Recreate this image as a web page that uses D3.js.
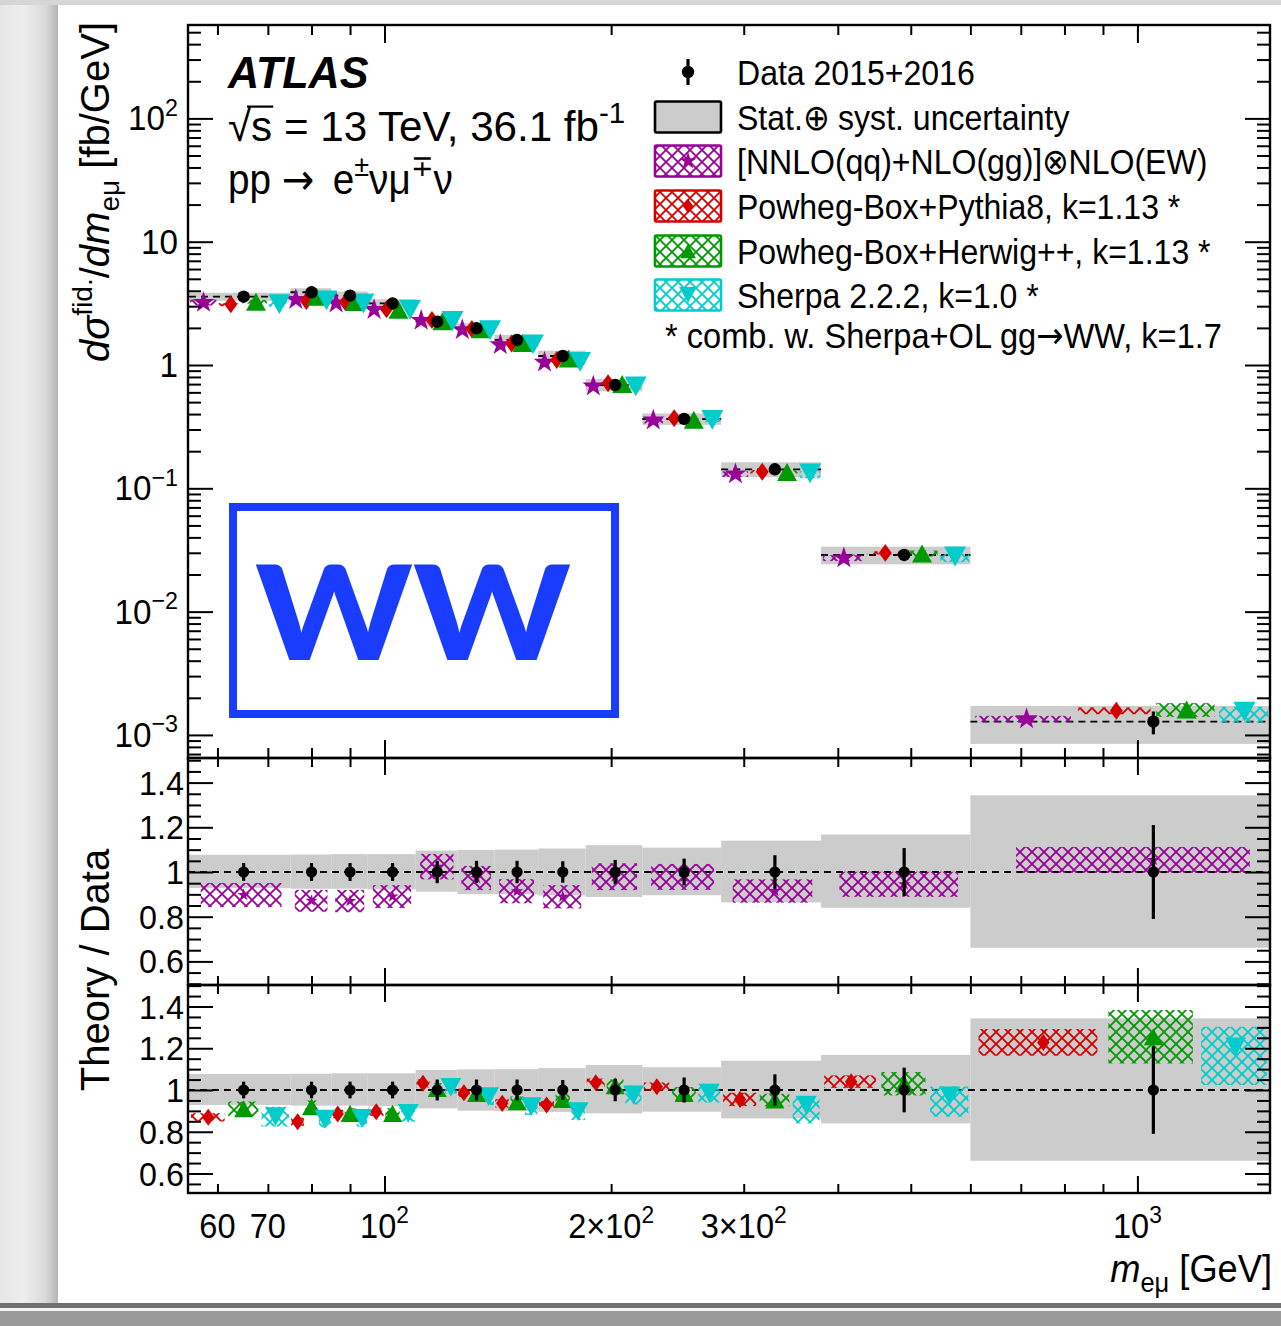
<!DOCTYPE html>
<html><head><meta charset="utf-8">
<script src="https://cdn.jsdelivr.net/npm/d3@7"></script>
<style>
html,body{margin:0;padding:0;background:#fff;}
svg{display:block;}
text{font-family:"Liberation Sans",Arial,Helvetica,sans-serif;}
</style></head><body><div id="chart"></div>
<script>
// m_emu bin edges [GeV]
const binEdges = [55,75,85,95,110,125,140,160,185,220,280,380,600,1500];
// measured fiducial cross section dsigma/dm [fb/GeV]
const dataXsec = [3.58,3.89,3.65,3.16,2.245,1.985,1.596,1.183,0.688,0.365,0.1426,0.0288,0.00128];
// relative statistical error (error bars)
const dataStat = [0.04,0.04,0.04,0.04,0.05,0.05,0.05,0.048,0.054,0.06,0.075,0.107,0.21];
// relative total uncertainty (grey band), up / down
const dataTotUp = [0.077,0.078,0.08,0.08,0.096,0.099,0.1,0.105,0.12,0.109,0.14,0.168,0.343];
const dataTotDn = [0.072,0.075,0.075,0.078,0.088,0.099,0.1,0.105,0.112,0.104,0.136,0.16,0.339];

// theory / data ratios and relative band half-widths
const nnloRatio = [0.897,0.871,0.870,0.89,1.024,0.973,0.914,0.889,0.979,0.978,0.915,0.945,1.054];
const nnloErr   = [0.054,0.049,0.05,0.051,0.057,0.054,0.054,0.052,0.06,0.058,0.052,0.056,0.058];
const pythiaRatio = [0.869,0.848,0.885,0.896,1.032,0.987,0.936,0.928,1.035,1.016,0.955,1.04,1.228];
const pythiaErr   = [0.02,0.02,0.02,0.02,0.02,0.02,0.02,0.02,0.02,0.02,0.032,0.03,0.064];
const herwigRatio = [0.91,0.92,0.888,0.888,1.008,0.984,0.944,0.955,1.02,0.984,0.952,1.03,1.255];
const herwigErr   = [0.035,0.03,0.025,0.025,0.025,0.025,0.025,0.025,0.03,0.03,0.03,0.056,0.128];
const sherpaRatio = [0.872,0.86,0.864,0.888,1.013,0.968,0.92,0.896,0.976,0.985,0.928,0.972,1.207];
const sherpaErrUp = [0.048,0.04,0.04,0.04,0.03,0.04,0.04,0.04,0.045,0.045,0.04,0.045,0.096];
const sherpaErrDn = [0.047,0.04,0.04,0.04,0.03,0.04,0.04,0.04,0.045,0.045,0.088,0.1,0.183];

// axis ticks
const xMajorTicks = [100,1000];
const xMinorTicks = [60,70,80,90,200,300,400,500,600,700,800,900];
const xTickValues = [60,70,100,200,300,1000];
const xTickBase = ["60","70","10","2\u00d710","3\u00d710","10"];
const xTickExp  = ["","","2","2","2","3"];
const yMainTickValues = [1e-3,1e-2,1e-1,1,10,100];
const yMainTickBase = ["10","10","10","1","10","10"];
const yMainTickExp  = ["\u22123","\u22122","\u22121","","","2"];
const yRatioTickValues = [0.6,0.8,1.0,1.2,1.4];
const yRatioTickLabels = ["0.6","0.8","1","1.2","1.4"];

// legend entries
const legendLabels = ["Data 2015+2016","Stat.\u2295 syst. uncertainty","[NNLO(qq)+NLO(gg)]\u2297NLO(EW)",
  "Powheg-Box+Pythia8, k=1.13 *","Powheg-Box+Herwig++, k=1.13 *","Sherpa 2.2.2, k=1.0 *"];

// ---------------------------------------------------------------
const W = 1281, H = 1326;
const L = 188, R = 1270;
const P = {main:[25,758], r1:[758,985], r2:[985,1193]};
const GREY = "#cccccc";
const COL = {nnlo:"#990099", py:"#d40000", hw:"#009900", sh:"#00cccc"};
const ARROW_FONT = "'DejaVu Sans', sans-serif";

const svg = d3.select("#chart").append("svg").attr("width",W).attr("height",H);
const defs = svg.append("defs");

// page backdrop
const lg = defs.append("linearGradient").attr("id","lshadow").attr("x1","0").attr("x2","1");
lg.append("stop").attr("offset","0").attr("stop-color","#e6e6e6");
lg.append("stop").attr("offset","0.4").attr("stop-color","#eeeeee");
lg.append("stop").attr("offset","0.8").attr("stop-color","#d8d8d8");
lg.append("stop").attr("offset","1").attr("stop-color","#b4b4b4");
svg.append("rect").attr("x",0).attr("y",0).attr("width",W).attr("height",H).attr("fill","#fff");
svg.append("rect").attr("x",0).attr("y",0).attr("width",58).attr("height",H).attr("fill","url(#lshadow)");
svg.append("rect").attr("x",0).attr("y",0).attr("width",W).attr("height",5).attr("fill","#d6d6d6");
svg.append("rect").attr("x",0).attr("y",1303).attr("width",W).attr("height",5).attr("fill","#707070");
svg.append("rect").attr("x",0).attr("y",1308).attr("width",W).attr("height",3).attr("fill","#f4f4f4");
svg.append("rect").attr("x",0).attr("y",1311).attr("width",W).attr("height",15).attr("fill","#9a9a9a");

// cross-hatch fills
function hatch(id,color){
  const s = 12;
  const p = defs.append("pattern").attr("id",id).attr("patternUnits","userSpaceOnUse")
    .attr("width",s).attr("height",s);
  p.append("path").attr("d",`M${-s/2},${-s/2}L${s*1.5},${s*1.5}M${-s/2},${s*1.5}L${s*1.5},${-s/2}`)
    .attr("stroke",color).attr("stroke-width",1.8).attr("fill","none");
}
Object.entries(COL).forEach(([k,c])=>hatch("h-"+k,c));

// scales
const x = d3.scaleLog().domain([55,1500]).range([L+1,R]);
const yMain = d3.scaleLog().domain([6.5e-4,572]).range([P.main[1],P.main[0]]);
const yR1 = d3.scaleLinear().domain([0.6,1.4]).range([961.4,782.6]);
const yR2 = d3.scaleLinear().domain([0.6,1.4]).range([1173.5,1006.5]);

function clip(id,top,bot){
  defs.append("clipPath").attr("id",id).append("rect").attr("x",L).attr("y",top).attr("width",R-L).attr("height",bot-top);
}
clip("c-main",P.main[0],P.main[1]); clip("c-r1",P.r1[0],P.r1[1]); clip("c-r2",P.r2[0],P.r2[1]);

const bins = binEdges.slice(0,-1).map((lo,i)=>({i,lo,hi:binEdges[i+1],c:(lo+binEdges[i+1])/2}));
const sub = (b,k,n)=>{const w=(b.hi-b.lo)/n; return [b.lo+k*w,b.lo+(k+1)*w];};

// markers
const markerPath = {
  star:(r)=>d3.symbol(d3.symbolStar, r*r/0.8908130915292852)(),
  diamond:(r)=>`M0,${-r*1.38}L${r},0L0,${r*1.38}L${-r},0Z`,
  up:(r)=>`M0,${-r*0.9}L${r},${r*0.9}L${-r},${r*0.9}Z`,
  down:(r)=>`M0,${r*0.9}L${r},${-r*0.9}L${-r},${-r*0.9}Z`
};
const series = [
  {key:"nnlo", ratio:nnloRatio, up:nnloErr, dn:nnloErr, shape:"star", size:11.5},
  {key:"py", ratio:pythiaRatio, up:pythiaErr, dn:pythiaErr, shape:"diamond", size:6.5},
  {key:"hw", ratio:herwigRatio, up:herwigErr, dn:herwigErr, shape:"up", size:10},
  {key:"sh", ratio:sherpaRatio, up:sherpaErrUp, dn:sherpaErrDn, shape:"down", size:11}
];
function marker(g,s,cx,cy,size){
  g.append("path").attr("d",markerPath[s.shape](size)).attr("fill",COL[s.key])
   .attr("transform",`translate(${cx},${cy})`);
}

// ---------------- main panel ----------------
const gm = svg.append("g").attr("clip-path","url(#c-main)");
gm.selectAll("rect.unc").data(bins).join("rect").attr("class","unc")
  .attr("x",b=>x(b.lo)).attr("width",b=>x(b.hi)-x(b.lo))
  .attr("y",b=>yMain(dataXsec[b.i]*(1+dataTotUp[b.i])))
  .attr("height",b=>yMain(dataXsec[b.i]*(1-dataTotDn[b.i]))-yMain(dataXsec[b.i]*(1+dataTotUp[b.i])))
  .attr("fill",GREY);
gm.selectAll("line.dl").data(bins).join("line").attr("class","dl")
  .attr("x1",b=>x(b.lo)).attr("x2",b=>x(b.hi))
  .attr("y1",b=>yMain(dataXsec[b.i])).attr("y2",b=>yMain(dataXsec[b.i]))
  .attr("stroke","#000").attr("stroke-width",1.8).attr("stroke-dasharray","7,5");
series.forEach((s,k)=>{
  bins.forEach(b=>{
    const [a,c] = sub(b,k,4), ins=(c-a)*0.04;
    const v = dataXsec[b.i]*s.ratio[b.i];
    const y0 = yMain(v*(1+s.up[b.i])), y1 = yMain(v*(1-s.dn[b.i]));
    gm.append("rect").attr("x",x(a+ins)).attr("width",x(c-ins)-x(a+ins))
      .attr("y",y0).attr("height",Math.max(y1-y0,3)).attr("fill",`url(#h-${s.key})`);
  });
});
series.forEach((s,k)=>{
  bins.forEach(b=>{
    const [a,c] = sub(b,k,4);
    marker(gm,s,x((a+c)/2),yMain(dataXsec[b.i]*s.ratio[b.i]),s.size);
  });
});
function dataPoints(g,yf,valf,r){
  g.selectAll(null).data(bins).join("line")
    .attr("x1",b=>x(b.c)).attr("x2",b=>x(b.c))
    .attr("y1",b=>yf(valf(b)*(1+dataStat[b.i]))).attr("y2",b=>yf(valf(b)*(1-dataStat[b.i])))
    .attr("stroke","#000").attr("stroke-width",3.2);
  g.selectAll(null).data(bins).join("circle")
    .attr("cx",b=>x(b.c)).attr("cy",b=>yf(valf(b))).attr("r",r).attr("fill","#000");
}
dataPoints(gm,yMain,b=>dataXsec[b.i],6.2);

// ---------------- ratio panels ----------------
function ratioBase(g,y){
  g.selectAll(null).data(bins).join("rect")
    .attr("x",b=>x(b.lo)).attr("width",b=>x(b.hi)-x(b.lo))
    .attr("y",b=>y(1+dataTotUp[b.i])).attr("height",b=>y(1-dataTotDn[b.i])-y(1+dataTotUp[b.i]))
    .attr("fill",GREY);
  g.append("line").attr("x1",L).attr("x2",R).attr("y1",y(1)).attr("y2",y(1))
    .attr("stroke","#000").attr("stroke-width",1.8).attr("stroke-dasharray","7,5");
}
const g1 = svg.append("g").attr("clip-path","url(#c-r1)");
ratioBase(g1,yR1);
{
  const s = series[0];
  bins.forEach(b=>{
    const ins=(b.hi-b.lo)*0.1;
    g1.append("rect").attr("x",x(b.lo+ins)).attr("width",x(b.hi-ins)-x(b.lo+ins))
      .attr("y",yR1(s.ratio[b.i]+s.up[b.i])).attr("height",yR1(s.ratio[b.i]-s.dn[b.i])-yR1(s.ratio[b.i]+s.up[b.i]))
      .attr("fill",`url(#h-${s.key})`);
  });
  bins.forEach(b=>marker(g1,s,x(b.c),yR1(s.ratio[b.i]),6.5));
}
dataPoints(g1,yR1,()=>1,5.6);

const g2 = svg.append("g").attr("clip-path","url(#c-r2)");
ratioBase(g2,yR2);
series.slice(1).forEach((s,k)=>{
  bins.forEach(b=>{
    const [a,c] = sub(b,k,3), ins=(c-a)*0.05;
    g2.append("rect").attr("x",x(a+ins)).attr("width",x(c-ins)-x(a+ins))
      .attr("y",yR2(s.ratio[b.i]+s.up[b.i])).attr("height",yR2(s.ratio[b.i]-s.dn[b.i])-yR2(s.ratio[b.i]+s.up[b.i]))
      .attr("fill",`url(#h-${s.key})`);
  });
});
series.slice(1).forEach((s,k)=>{
  bins.forEach(b=>{
    const [a,c] = sub(b,k,3);
    marker(g2,s,x((a+c)/2),yR2(s.ratio[b.i]),s.size*0.95);
  });
});
dataPoints(g2,yR2,()=>1,5.6);

// ---------------- axes & frames ----------------
function ticks(g,axis){ g.call(axis); g.select(".domain").remove(); g.selectAll("line").attr("stroke","#000").attr("stroke-width",2); }
[["main",P.main,yMain],["r1",P.r1,yR1],["r2",P.r2,yR2]].forEach(([name,[top,bot],y])=>{
  const long = name==="main" ? 18 : 17, short = name==="main" ? 10 : 9;
  ticks(svg.append("g").attr("transform",`translate(0,${bot})`), d3.axisBottom(x).tickValues(xMajorTicks).tickSize(-long).tickFormat(""));
  ticks(svg.append("g").attr("transform",`translate(0,${bot})`), d3.axisBottom(x).tickValues(xMinorTicks).tickSize(-short).tickFormat(""));
  ticks(svg.append("g").attr("transform",`translate(0,${top})`), d3.axisTop(x).tickValues(xMajorTicks).tickSize(-long).tickFormat(""));
  ticks(svg.append("g").attr("transform",`translate(0,${top})`), d3.axisTop(x).tickValues(xMinorTicks).tickSize(-short).tickFormat(""));
  let maj, mnr;
  if(name==="main"){
    maj = yMainTickValues;
    mnr = [];
    for(let e=-4;e<=2;e++) for(let m=2;m<=9;m++){ const v=m*Math.pow(10,e); if(v>6.5e-4 && v<572) mnr.push(v); }
  } else {
    maj = yRatioTickValues;
    mnr = d3.range(10,31).map(v=>v*0.05).filter(v=>Math.abs(v*5-Math.round(v*5))>1e-6 && y(v)>=top && y(v)<=bot);
  }
  ticks(svg.append("g").attr("transform",`translate(${L},0)`), d3.axisLeft(y).tickValues(maj).tickSize(-25).tickFormat(""));
  ticks(svg.append("g").attr("transform",`translate(${L},0)`), d3.axisLeft(y).tickValues(mnr).tickSize(-13).tickFormat(""));
  ticks(svg.append("g").attr("transform",`translate(${R},0)`), d3.axisRight(y).tickValues(maj).tickSize(-25).tickFormat(""));
  ticks(svg.append("g").attr("transform",`translate(${R},0)`), d3.axisRight(y).tickValues(mnr).tickSize(-13).tickFormat(""));
  svg.append("rect").attr("x",L).attr("y",top).attr("width",R-L).attr("height",bot-top)
    .attr("fill","none").attr("stroke","#000").attr("stroke-width",2.4);
});

// ---------------- text helpers ----------------
// segments: {t, sup, sub, it, font}; sx squeezes text horizontally
function label(parent,xp,yp,segs,o){
  o = Object.assign({size:34,anchor:"start",sx:0.9,weight:"normal",style:"normal",rot:0,fill:"#000"},o);
  const g = parent.append("g").attr("transform",`translate(${xp},${yp}) rotate(${o.rot}) scale(${o.sx},1)`);
  const t = g.append("text").attr("text-anchor",o.anchor).attr("font-size",o.size)
    .attr("font-weight",o.weight).attr("font-style",o.style).style("fill",o.fill);
  let shift = 0;
  segs.forEach(sg=>{
    const target = sg.sup ? -0.42*o.size : sg.sub ? 0.26*o.size : 0;
    const ts = t.append("tspan").text(sg.t).attr("dy",target-shift);
    shift = target;
    if(sg.sup||sg.sub) ts.attr("font-size",o.size*0.7);
    if(sg.it) ts.attr("font-style","italic");
    if(sg.font) ts.style("font-family",sg.font);
  });
  return g;
}

// tick labels
yMainTickValues.forEach((v,i)=>{
  const segs=[{t:yMainTickBase[i]}]; if(yMainTickExp[i]) segs.push({t:yMainTickExp[i],sup:true});
  label(svg,178,yMain(v)+12,segs,{anchor:"end",size:35,sx:0.95});
});
[yR1,yR2].forEach(y=>yRatioTickValues.forEach((v,i)=>
  label(svg,184,y(v)+12,[{t:yRatioTickLabels[i]}],{anchor:"end",size:34,sx:0.95})));
xTickValues.forEach((v,i)=>{
  const segs=[{t:xTickBase[i]}]; if(xTickExp[i]) segs.push({t:xTickExp[i],sup:true});
  label(svg,x(v),1238,segs,{anchor:"middle",size:35,sx:0.93});
});

// axis titles
label(svg,1272,1282,[{t:"m",it:true},{t:"e\u03bc",sub:true},{t:" [GeV]"}],{anchor:"end",size:39,sx:0.93});
label(svg,109,192,[{t:"d\u03c3",it:true},{t:"fid.",sup:true},{t:"/"},{t:"dm",it:true},{t:"e\u03bc",sub:true},{t:"  [fb/GeV]"}],
  {anchor:"middle",size:40,sx:1,rot:-90});
label(svg,109,970,[{t:"Theory / Data"}],{anchor:"middle",size:40,sx:1,rot:-90});

// experiment labels
label(svg,228,88,[{t:"ATLAS"}],{size:44,weight:"bold",style:"italic",sx:0.98});
{
  const fs = 43;
  const g = label(svg,228,141,[{t:"\u221as"},{t:" = 13 TeV, 36.1 fb"},{t:"-1",sup:true}],{size:fs,sx:0.98});
  const tn = g.select("text").node();
  const w0 = tn.getSubStringLength(0,1), w1 = tn.getSubStringLength(1,1);
  // radical bar over the s
  g.append("line").attr("x1",w0*0.82).attr("x2",w0+w1+1).attr("y1",-0.8*fs).attr("y2",-0.8*fs)
    .attr("stroke","#000").attr("stroke-width",2.2);
}
label(svg,228,194,[{t:"pp "},{t:"\u2192",font:ARROW_FONT},{t:"\u2009 e"},{t:"\u00b1",sup:true},{t:"\u03bd\u03bc"},{t:"\u2213",sup:true},{t:"\u03bd"}],{size:43,sx:0.9});

// legend
const legY = [72,117,161,206,251,295];
const lx = 688, bw = 66, bh = 31;
{
  const y0 = legY[0];
  svg.append("line").attr("x1",lx).attr("x2",lx).attr("y1",y0-13).attr("y2",y0+13).attr("stroke","#000").attr("stroke-width",3.2);
  svg.append("circle").attr("cx",lx).attr("cy",y0).attr("r",6.2).attr("fill","#000");
  svg.append("rect").attr("x",lx-bw/2).attr("y",legY[1]-bh/2).attr("width",bw).attr("height",bh)
    .attr("fill",GREY).attr("stroke","#000").attr("stroke-width",2.6).attr("rx",1.5);
  series.forEach((s,k)=>{
    const yy = legY[k+2];
    svg.append("rect").attr("x",lx-bw/2).attr("y",yy-bh/2).attr("width",bw).attr("height",bh)
      .attr("fill","#fff").attr("stroke","none");
    svg.append("rect").attr("x",lx-bw/2).attr("y",yy-bh/2).attr("width",bw).attr("height",bh)
      .attr("fill",`url(#h-${s.key})`).attr("stroke",COL[s.key]).attr("stroke-width",2.6).attr("rx",1.5);
    marker(svg,s,lx,yy,s.size*0.8);
  });
}
legendLabels.forEach((t,i)=>label(svg,737,legY[i]+13,[{t}],{size:36,sx:0.89}));
label(svg,665,348,[{t:"* comb. w. Sherpa+OL gg"},{t:"\u2192",font:ARROW_FONT},{t:"WW, k=1.7"}],{size:36,sx:0.906});

// process logo
const logoBlue = "#1a3cff";
svg.append("rect").attr("x",233).attr("y",507).attr("width",382).attr("height",207)
  .attr("fill","none").attr("stroke",logoBlue).attr("stroke-width",8);
svg.append("text").attr("x",413).attr("y",660).attr("text-anchor","middle")
  .style("font-family","Lato, 'Open Sans', 'Liberation Sans', sans-serif").attr("font-weight",900)
  .attr("font-size",132).style("fill",logoBlue).attr("textLength",316).attr("lengthAdjust","spacingAndGlyphs")
  .text("WW");
</script></body></html>
